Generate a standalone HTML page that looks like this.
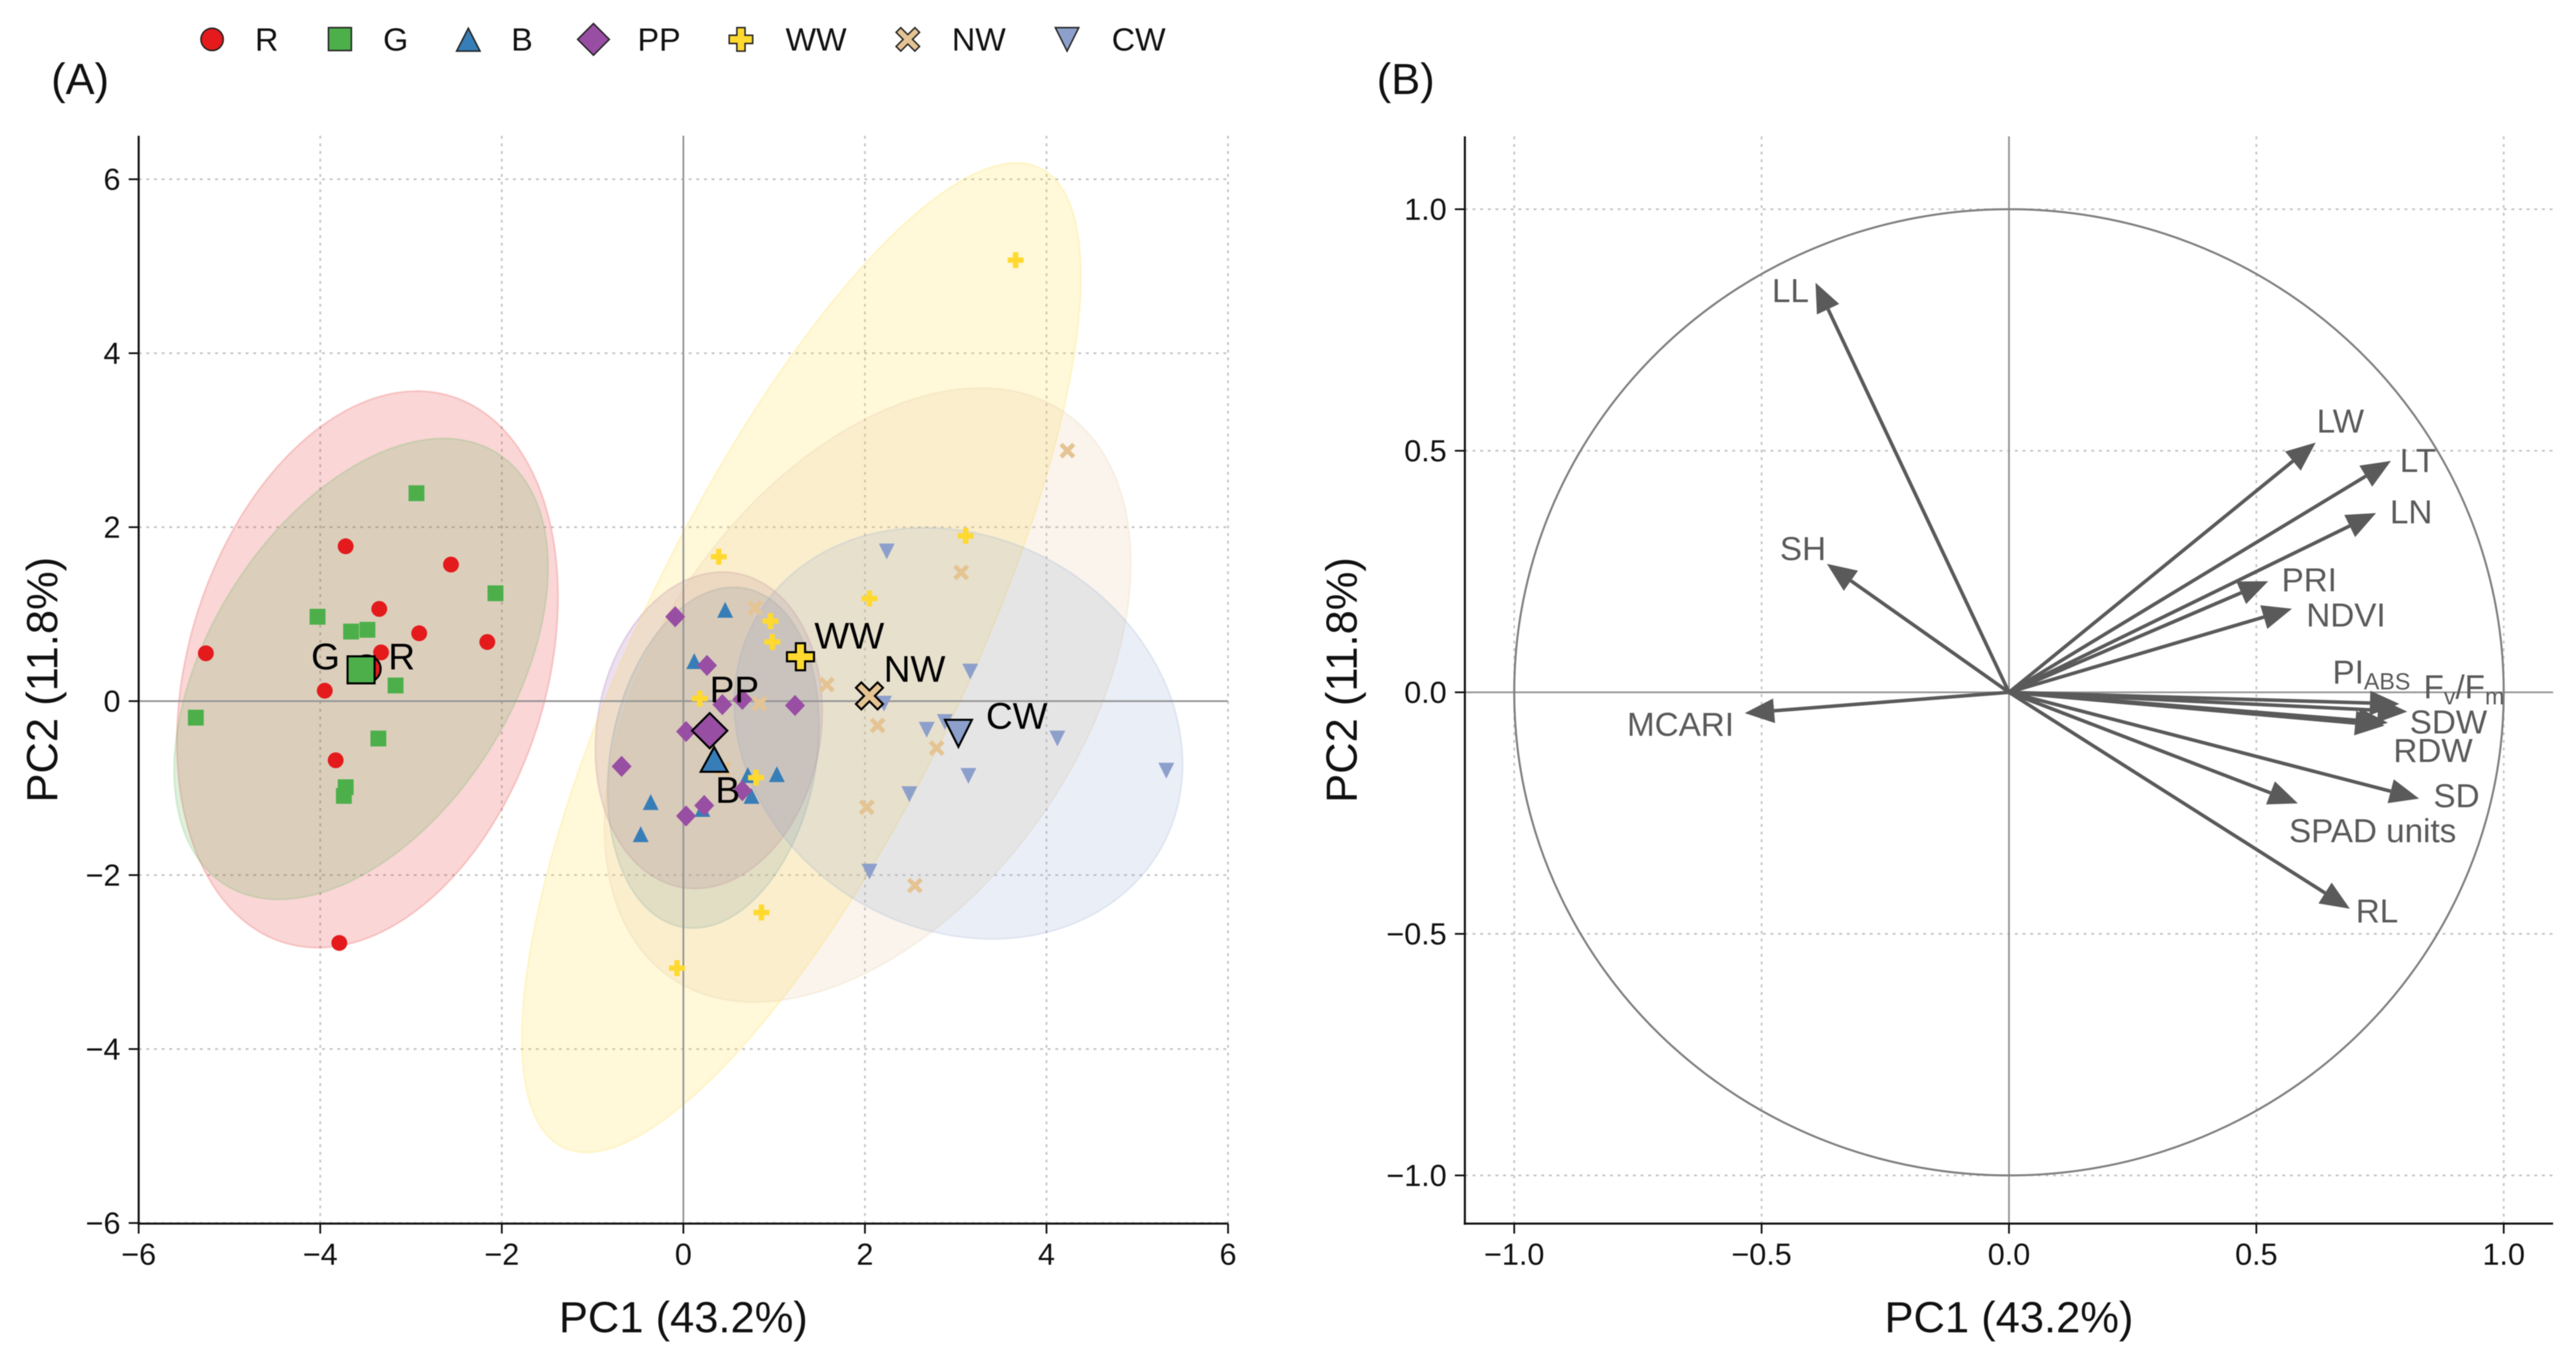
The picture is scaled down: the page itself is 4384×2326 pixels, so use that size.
<!DOCTYPE html>
<html lang="en">
<head>
<meta charset="utf-8">
<title>PCA score plot and loading plot</title>
<style>
html,body{margin:0;padding:0;background:#fff;width:4384px;height:2326px;overflow:hidden}
svg{display:block;font-family:"Liberation Sans",sans-serif;filter:blur(0.8px)}
</style>
</head>
<body>
<svg id="chart" xmlns="http://www.w3.org/2000/svg" width="4384" height="2326" viewBox="0 0 4384 2326">
  <rect x="0" y="0" width="4384" height="2326" fill="#fff"/>
  <g id="panelA"></g>
  <g id="panelB"></g>
  <text x="87" y="160" font-size="74" fill="#111">(A)</text>
  <text x="2343" y="160" font-size="74" fill="#111">(B)</text>
  <g font-size="55" fill="#111">
    <g>
      <circle cx="361" cy="67" r="19" fill="#e41a1c" stroke="#222" stroke-width="2.5"/>
      <text x="434" y="86">R</text>
    </g>
    <g>
      <rect x="559" y="47" width="39" height="39" fill="#4daf4a" stroke="#222" stroke-width="2.5"/>
      <text x="652" y="86">G</text>
    </g>
    <g>
      <path d="M797 48 L817 87 L777 87 Z" fill="#377eb8" stroke="#222" stroke-width="2.5" stroke-linejoin="miter"/>
      <text x="870" y="86">B</text>
    </g>
    <g>
      <path d="M1010 40 L1037 67 L1010 94 L983 67 Z" fill="#984ea3" stroke="#222" stroke-width="2.5"/>
      <text x="1085" y="86">PP</text>
    </g>
    <g>
      <path d="M1254 47 H1268 V60 H1281 V74 H1268 V87 H1254 V74 H1241 V60 H1254 Z" fill="#ffd92f" stroke="#222" stroke-width="2.5"/>
      <text x="1337" y="86">WW</text>
    </g>
    <g>
      <path d="M1545 59 L1557 47 L1565 55 L1553 67 L1565 79 L1557 87 L1545 75 L1533 87 L1525 79 L1537 67 L1525 55 L1533 47 Z" fill="#e5c494" stroke="#222" stroke-width="2.5"/>
      <text x="1620" y="86">NW</text>
    </g>
    <g>
      <path d="M1796 47 L1836 47 L1816 87 Z" fill="#8da0cb" stroke="#222" stroke-width="2.5"/>
      <text x="1892" y="86">CW</text>
    </g>
  </g>
</svg>
<script>
// ---- Panel A: score data (PC1, PC2) ----
const categories = ['R','G','B','PP','WW','NW','CW'];
const rPC1 = [-3.72,-2.56,-3.35,-2.91,-2.16,-5.26,-3.33,-3.95,-3.83,-3.79];
const rPC2 = [1.78,1.57,1.06,0.78,0.68,0.55,0.56,0.12,-0.68,-2.78];
const gPC1 = [-2.94,-2.07,-4.03,-3.66,-3.48,-3.17,-5.37,-3.36,-3.72,-3.74];
const gPC2 = [2.39,1.24,0.97,0.80,0.82,0.18,-0.19,-0.43,-0.99,-1.09];
const bPC1 = [0.46,0.12,-0.36,-0.47,1.03,0.71,0.75,0.37,0.21];
const bPC2 = [1.05,0.46,-1.16,-1.53,-0.84,-0.85,-1.09,-0.65,-1.24];
const ppPC1 = [-0.09,0.26,0.43,0.65,1.23,0.03,-0.68,0.65,0.23,0.03];
const ppPC2 = [0.97,0.41,-0.04,0.02,-0.05,-0.35,-0.75,-1.03,-1.20,-1.32];
const wwPC1 = [0.39,3.11,2.05,0.96,0.98,0.18,0.80,0.86,3.66,-0.07];
const wwPC2 = [1.66,1.90,1.18,0.92,0.68,0.03,-0.88,-2.43,5.07,-3.07];
const nwPC1 = [0.79,3.06,1.58,0.84,2.14,2.79,2.02,2.55,0.44,4.23];
const nwPC2 = [1.07,1.48,0.19,-0.03,-0.28,-0.54,-1.22,-2.12,-0.78,2.88];
const cwPC1 = [2.24,3.16,2.21,2.68,2.88,4.12,5.32,3.14,2.49,2.05];
const cwPC2 = [1.72,0.34,-0.03,-0.33,-0.24,-0.43,-0.80,-0.86,-1.07,-1.96];
const centroidPC1 = [-3.49,-3.55,0.34,0.29,1.29,2.05,3.03];
const centroidPC2 = [0.37,0.36,-0.67,-0.34,0.51,0.06,-0.37];
const groupLabelPC1 = [-3.25,-4.10,0.353,0.29,1.443,2.207,3.333];
const groupLabelPC2 = [0.365,0.365,-1.17,-0.014,0.604,0.223,-0.318];
// confidence ellipses: centre, half-extent on each axis, correlation
const ellipseCx = [-3.48,-3.55,0.33,0.28,1.30,2.03,3.03];
const ellipseCy = [0.365,0.37,-0.65,-0.335,0.50,0.07,-0.37];
const ellipseA = [2.10,2.06,1.165,1.25,3.08,2.90,2.47];
const ellipseB = [3.20,2.65,1.96,1.82,5.69,3.53,2.365];
const ellipseRho = [0.26,0.44,0.19,0.12,0.77,0.43,-0.15];
const scoreXTicks = [-6,-4,-2,0,2,4,6];
const scoreYTicks = [-6,-4,-2,0,2,4,6];

// ---- Panel B: loadings ----
const loadingNames = ['LW','LT','LN','PRI','NDVI','PIABS','FvFm','SDW','RDW','SD','SPAD units','RL','MCARI','SH','LL'];
const loadingPC1 = [0.62,0.772,0.742,0.524,0.572,0.789,0.805,0.766,0.759,0.829,0.584,0.689,-0.534,-0.368,-0.391];
const loadingPC2 = [0.517,0.479,0.371,0.230,0.173,-0.024,-0.040,-0.063,-0.069,-0.220,-0.230,-0.448,-0.043,0.266,0.848];
const loadingLabelPC1 = [0.622,0.790,0.770,0.551,0.601,0.654,0.838,0.810,0.777,0.858,0.566,0.701,-0.772,-0.463,-0.479];
const loadingLabelPC2 = [0.538,0.456,0.350,0.209,0.136,0.018,-0.013,-0.085,-0.144,-0.238,-0.310,-0.476,-0.090,0.274,0.808];
const loadingXTicks = [-1.0,-0.5,0,0.5,1.0];
const loadingYTicks = [-1.0,-0.5,0,0.5,1.0];

const groupColors = ['#e41a1c','#4daf4a','#377eb8','#984ea3','#ffd92f','#e5c494','#8da0cb'];
const groupShapes = ['o','s','^','D','P','X','v'];

const NS = 'http://www.w3.org/2000/svg';
function mk(tag, parent, attrs){
  const e = document.createElementNS(NS, tag);
  for (const k in attrs) e.setAttribute(k, attrs[k]);
  parent.appendChild(e);
  return e;
}
function fmtMinus(s){ return String(s).replace('-', '\u2212'); }

// axis functions
const ax = {x0:1163, xk:154.5, y0:1193, yk:148, left:236, right:2090, top:231, bottom:2082};
const bx = {x0:3419, xk:842, y0:1178, yk:822, left:2493, right:4345, top:232, bottom:2082};
const scoreX = v => ax.x0 + v*ax.xk;
const scoreY = v => ax.y0 - v*ax.yk;
const loadX = v => bx.x0 + v*bx.xk;
const loadY = v => bx.y0 - v*bx.yk;

function shapePath(shape, cx, cy, w, h){
  const a = w/2, b = h/2;
  const poly = pts => 'M' + pts.map(p => (cx+p[0]*a).toFixed(1)+' '+(cy+p[1]*b).toFixed(1)).join(' L') + ' Z';
  if (shape === '^') return poly([[0,-1],[1,1],[-1,1]]);
  if (shape === 'v') return poly([[-1,-1],[1,-1],[0,1]]);
  if (shape === 'D') return poly([[0,-1],[1,0],[0,1],[-1,0]]);
  if (shape === 's') return poly([[-1,-1],[1,-1],[1,1],[-1,1]]);
  if (shape === 'P') return poly([[-.34,-1],[.34,-1],[.34,-.34],[1,-.34],[1,.34],[.34,.34],[.34,1],[-.34,1],[-.34,.34],[-1,.34],[-1,-.34],[-.34,-.34]]);
  if (shape === 'X') return poly([[0,-.4],[.6,-1],[1,-.6],[.4,0],[1,.6],[.6,1],[0,.4],[-.6,1],[-1,.6],[-.4,0],[-1,-.6],[-.6,-1]]);
  // circle
  return 'M'+(cx-a)+' '+cy+' A'+a+' '+b+' 0 1 0 '+(cx+a)+' '+cy+' A'+a+' '+b+' 0 1 0 '+(cx-a)+' '+cy+' Z';
}

function drawAxes(g, cfg, xf, yf, xTicks, yTicks){
  // grid
  xTicks.forEach(t => {
    const l = mk('line', g, {x1:xf(t), x2:xf(t), y1:cfg.top, y2:cfg.bottom, stroke:'#c6c6c6', 'stroke-width':3, 'stroke-dasharray':'5 8'});
    
    
  });
  yTicks.forEach(t => {
    const l = mk('line', g, {x1:cfg.left, x2:cfg.right, y1:yf(t), y2:yf(t), stroke:'#c6c6c6', 'stroke-width':3, 'stroke-dasharray':'5 8'});
    
    
  });
}
function drawFrame(g, cfg, xf, yf){
  const zh = mk('line', g, {x1:cfg.left, x2:cfg.right, y1:yf(0), y2:yf(0), stroke:'#969696', 'stroke-width':3});
  
  
  const zv = mk('line', g, {x1:xf(0), x2:xf(0), y1:cfg.top, y2:cfg.bottom, stroke:'#969696', 'stroke-width':3});
  
  
}
function drawSpines(g, cfg, xf, yf, xTicks, yTicks, xFmt, yFmt, yLabelBase){
  const sl = mk('line', g, {x1:cfg.left, x2:cfg.left, y1:cfg.top, y2:cfg.bottom+2, stroke:'#111', 'stroke-width':3.5});
  
  
  const sb = mk('line', g, {x1:cfg.left-2, x2:cfg.right, y1:cfg.bottom, y2:cfg.bottom, stroke:'#111', 'stroke-width':3.5});
  
  
  xTicks.forEach(t => {
    const tk = mk('line', g, {x1:xf(t), x2:xf(t), y1:cfg.bottom, y2:cfg.bottom+17, stroke:'#111', 'stroke-width':3});
    
    
    const lb = mk('text', g, {x:xf(t), y:cfg.bottom+70, 'text-anchor':'middle', 'font-size':52, fill:'#111'});
    lb.textContent = fmtMinus(xFmt(t));
    
    
  });
  yTicks.forEach(t => {
    const tk = mk('line', g, {x1:cfg.left-17, x2:cfg.left, y1:yf(t), y2:yf(t), stroke:'#111', 'stroke-width':3});
    
    
    const lb = mk('text', g, {x:cfg.left-31, y:yf(t)+18, 'text-anchor':'end', 'font-size':52, fill:'#111'});
    lb.textContent = fmtMinus(yFmt(t));
    
    
  });
  const xt = mk('text', g, {x:xf(0), y:2267, 'text-anchor':'middle', 'font-size':74, fill:'#111'});
  xt.textContent = 'PC1 (43.2%)';
  
  
  const yt = mk('text', g, {transform:'translate('+yLabelBase+' '+((cfg.top+cfg.bottom)/2)+') rotate(-90)', 'text-anchor':'middle', 'font-size':74, fill:'#111'});
  yt.textContent = 'PC2 (11.8%)';
  
  
}

// ---- draw panel A ----
const gA = document.getElementById('panelA');
const int0 = v => String(v);
drawAxes(gA, ax, scoreX, scoreY, scoreXTicks, scoreYTicks);

categories.forEach((cat, i) => {
  const A = ellipseA[i], B = ellipseB[i], rho = ellipseRho[i], s = Math.sqrt(1 - rho*rho);
  let d = '';
  for (let k = 0; k < 180; k++) {
    const t = k / 180 * 2 * Math.PI;
    const px = scoreX(ellipseCx[i] + A*Math.cos(t));
    const py = scoreY(ellipseCy[i] + B*(rho*Math.cos(t) + s*Math.sin(t)));
    d += (k ? 'L' : 'M') + px.toFixed(1) + ' ' + py.toFixed(1) + ' ';
  }
  const el = mk('path', gA, {d:d+'Z', fill:groupColors[i], 'fill-opacity':0.18, stroke:groupColors[i], 'stroke-opacity':0.18, 'stroke-width':3});
  
  
});

drawFrame(gA, ax, scoreX, scoreY);

const seriesX = [rPC1,gPC1,bPC1,ppPC1,wwPC1,nwPC1,cwPC1];
const seriesY = [rPC2,gPC2,bPC2,ppPC2,wwPC2,nwPC2,cwPC2];
categories.forEach((cat, i) => {
  const w = groupShapes[i] === 'D' ? 34 : 27;
  const h = groupShapes[i] === 'D' ? 36 : 27;
  seriesX[i].forEach((v, j) => {
    const pt = mk('path', gA, {d:shapePath(groupShapes[i], scoreX(v), scoreY(seriesY[i][j]), w, h), fill:groupColors[i]});
    
    
  });
});
categories.forEach((cat, i) => {
  const w = groupShapes[i] === 'D' ? 60 : (groupShapes[i] === 'o' ? 48 : 46);
  const h = groupShapes[i] === 'D' ? 60 : (groupShapes[i] === '^' ? 42 : 46);
  const c = mk('path', gA, {d:shapePath(groupShapes[i], scoreX(centroidPC1[i]), scoreY(centroidPC2[i]), w, h), fill:groupColors[i], stroke:'#000', 'stroke-width':3.5});
  
  
  const t = mk('text', gA, {x:scoreX(groupLabelPC1[i]), y:scoreY(groupLabelPC2[i]), 'font-size':63, fill:'#000'});
  t.textContent = cat;
  
  
});
drawSpines(gA, ax, scoreX, scoreY, scoreXTicks, scoreYTicks, int0, int0, 97.5);

// ---- draw panel B ----
const gB = document.getElementById('panelB');
const fix1 = v => v.toFixed(1);
drawAxes(gB, bx, loadX, loadY, loadingXTicks, loadingYTicks);
drawFrame(gB, bx, loadX, loadY);

const unitCircle = mk('ellipse', gB, {cx:loadX(0), cy:loadY(0), rx:loadX(1)-loadX(0), ry:loadY(0)-loadY(1), fill:'none', stroke:'#808080', 'stroke-width':3.5});



loadingNames.forEach((name, i) => {
  const tx = loadX(loadingPC1[i]), ty = loadY(loadingPC2[i]);
  const ox = loadX(0), oy = loadY(0);
  const len = Math.hypot(tx-ox, ty-oy);
  const ux = (tx-ox)/len, uy = (ty-oy)/len;
  const hl = 50, hw = 21;
  const bxp = tx - ux*hl, byp = ty - uy*hl;
  const shaft = mk('line', gB, {x1:ox, y1:oy, x2:bxp, y2:byp, stroke:'#5a5a5a', 'stroke-width':6});
  
  
  const head = mk('path', gB, {d:'M'+tx+' '+ty+' L'+(bxp-uy*hw)+' '+(byp+ux*hw)+' L'+(bxp+uy*hw)+' '+(byp-ux*hw)+' Z', fill:'#5a5a5a'});
  
  
  const t = mk('text', gB, {x:loadX(loadingLabelPC1[i]), y:loadY(loadingLabelPC2[i]), 'font-size':56.5, fill:'#5a5a5a'});
  
  
  if (name === 'PIABS') {
    mk('tspan', t, {}).textContent = 'PI';
    mk('tspan', t, {dy:10, 'font-size':39.5}).textContent = 'ABS';
  } else if (name === 'FvFm') {
    mk('tspan', t, {}).textContent = 'F';
    mk('tspan', t, {dy:10, 'font-size':39.5}).textContent = 'v';
    mk('tspan', t, {dy:-10}).textContent = '/F';
    mk('tspan', t, {dy:10, 'font-size':39.5}).textContent = 'm';
  } else {
    t.textContent = name;
  }
});
drawSpines(gB, bx, loadX, loadY, loadingXTicks, loadingYTicks, fix1, fix1, 2309);
</script>
</body>
</html>
